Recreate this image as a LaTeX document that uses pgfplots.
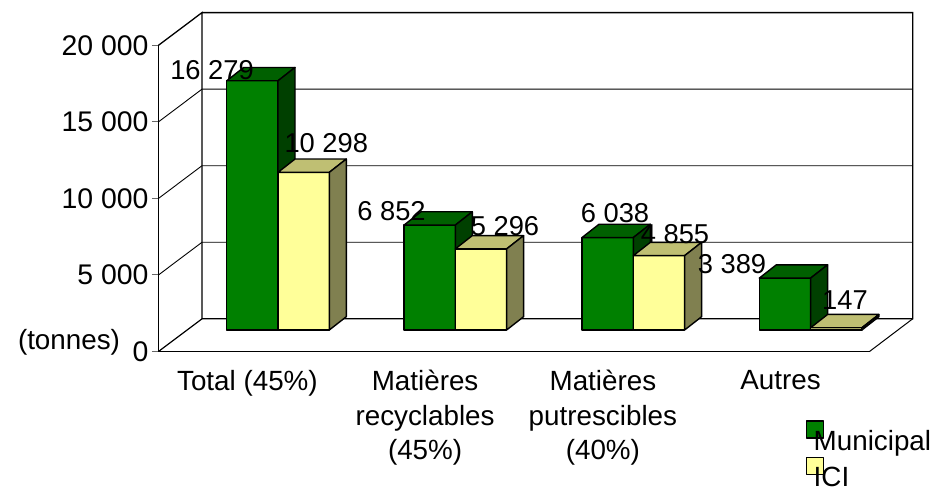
\documentclass[border=0pt]{standalone}
\usepackage{fontspec}
\setmainfont{Liberation Sans}
\usepackage{pgfplots}
\pgfplotsset{compat=1.18}
\definecolor{gf}{HTML}{008000}
\definecolor{gt}{HTML}{006000}
\definecolor{gs}{HTML}{004000}
\definecolor{yf}{HTML}{FFFF99}
\definecolor{yt}{HTML}{BFBF73}
\definecolor{ys}{HTML}{808050}
\newcommand\txt{\fontsize{27.8}{34.5}\selectfont}
\newcommand\txtd{\fontsize{27.3}{34}\selectfont}
\newcommand\txty{\fontsize{28.4}{34}\selectfont}
\newcommand\vlabel[5]{\addplot[draw=none,forget plot,point meta=explicit symbolic,nodes near coords,
  nodes near coords style={anchor=center,xshift=#3pt,yshift=#4pt,font=\txtd,text=black,inner sep=0pt}] coordinates {(#1,#2)[#5]};}
\begin{document}
\begin{tikzpicture}[x=1pt,y=1pt]
\useasboundingbox (0,0) rectangle (932,491);
\begin{axis}[
  scale only axis, width=711pt, height=306.2pt,
  at={(158.5pt,139.5pt)}, anchor=origin,
  xmin=0, xmax=711, ymin=0, ymax=20000,
  clip=false, scaled y ticks=false, scaled x ticks=false,
  axis x line*=bottom, axis y line*=left,
  axis line style={black,line width=1pt,-},
  every tick/.style={black!60,line width=1pt},
  tick align=outside, major tick length=6.5pt, minor tick length=6.5pt,
  ytick={0,5000,10000,15000,20000},
  yticklabels={0,5 000,10 000,15 000,20 000},
  xtick={88.9,266.6,444.4,622.1},
  minor xtick={0,177.75,355.5,533.25,711},
  xtick style={draw=none},
  minor x tick style={black!60,line width=1pt},
  xticklabels={Total (45\%),Matières\\recyclables\\(45\%),Matières\\putrescibles\\(40\%),Autres},
  xticklabel style={align=center,font=\txt,yshift=-8.5pt,anchor=north},
  yticklabel style={font=\txty,xshift=0pt,anchor=east},
]
\addplot[black,line width=1.3pt] coordinates {(0,20000)(43.5,22135)(43.5,2135)(754.2,2135)(754.2,22135)(43.5,22135)};
\addplot[black,line width=1.2pt] coordinates {(0,0)(43.5,2135)};
\addplot[black,line width=1.0pt] coordinates {(711,0)(754.2,2135)};
\addplot[black,line width=0.9pt] coordinates {(0,5000)(43.5,7135)(754.2,7135)};
\addplot[black,line width=0.9pt] coordinates {(0,10000)(43.5,12135)(754.2,12135)};
\addplot[black,line width=0.9pt] coordinates {(0,15000)(43.5,17135)(754.2,17135)};
\node[font=\txt,anchor=center] at (axis cs:-89.5,600) {(tonnes)};
\end{axis}
\begin{axis}[
  scale only axis, width=711pt, height=306.2pt,
  at={(158.5pt,161pt)}, anchor=origin,
  xmin=0, xmax=711, ymin=0, ymax=20000,
  clip=false, hide axis,
  legend style={draw=none,fill=none,at={(axis cs:653,-6400)},anchor=north west,font=\txt,
    row sep=11.5pt,inner sep=0pt,legend cell align=left},
]
\pgfplotsset{every axis plot/.append style={line width=1.4pt,draw=black,line join=round}}
% Total
\addplot[fill=gf,forget plot] coordinates {(68.2,0)(119.5,0)(119.5,16279)(68.2,16279)} --cycle;
\addplot[fill=gt,forget plot] coordinates {(68.2,16279)(119.5,16279)(136.5,17148)(85.2,17148)} --cycle;
\addplot[fill=gs,forget plot] coordinates {(119.5,0)(136.5,869)(136.5,17148)(119.5,16279)} --cycle;
\addplot[fill=yf,forget plot] coordinates {(119.5,0)(170.8,0)(170.8,10298)(119.5,10298)} --cycle;
\addplot[fill=yt,forget plot] coordinates {(119.5,10298)(170.8,10298)(187.8,11167)(136.5,11167)} --cycle;
\addplot[fill=ys,forget plot] coordinates {(170.8,0)(187.8,869)(187.8,11167)(170.8,10298)} --cycle;
% Recyclables
\addplot[fill=gf,forget plot] coordinates {(245.5,0)(296.8,0)(296.8,6852)(245.5,6852)} --cycle;
\addplot[fill=gt,forget plot] coordinates {(245.5,6852)(296.8,6852)(313.8,7721)(262.5,7721)} --cycle;
\addplot[fill=gs,forget plot] coordinates {(296.8,0)(313.8,869)(313.8,7721)(296.8,6852)} --cycle;
\addplot[fill=yf,forget plot] coordinates {(296.8,0)(348.1,0)(348.1,5296)(296.8,5296)} --cycle;
\addplot[fill=yt,forget plot] coordinates {(296.8,5296)(348.1,5296)(365.1,6165)(313.8,6165)} --cycle;
\addplot[fill=ys,forget plot] coordinates {(348.1,0)(365.1,869)(365.1,6165)(348.1,5296)} --cycle;
% Putrescibles
\addplot[fill=gf,forget plot] coordinates {(423.5,0)(474.8,0)(474.8,6038)(423.5,6038)} --cycle;
\addplot[fill=gt,forget plot] coordinates {(423.5,6038)(474.8,6038)(491.8,6907)(440.5,6907)} --cycle;
\addplot[fill=gs,forget plot] coordinates {(474.8,0)(491.8,869)(491.8,6907)(474.8,6038)} --cycle;
\addplot[fill=yf,forget plot] coordinates {(474.8,0)(526.1,0)(526.1,4855)(474.8,4855)} --cycle;
\addplot[fill=yt,forget plot] coordinates {(474.8,4855)(526.1,4855)(543.1,5724)(491.8,5724)} --cycle;
\addplot[fill=ys,forget plot] coordinates {(526.1,0)(543.1,869)(543.1,5724)(526.1,4855)} --cycle;
% Autres
\addplot[fill=gf,forget plot] coordinates {(600.8,0)(652.1,0)(652.1,3389)(600.8,3389)} --cycle;
\addplot[fill=gt,forget plot] coordinates {(600.8,3389)(652.1,3389)(669.1,4258)(617.8,4258)} --cycle;
\addplot[fill=gs,forget plot] coordinates {(652.1,0)(669.1,869)(669.1,4258)(652.1,3389)} --cycle;
\addplot[fill=yf,forget plot] coordinates {(652.1,0)(703.4,0)(703.4,147)(652.1,147)} --cycle;
\addplot[fill=yt,forget plot] coordinates {(652.1,147)(703.4,147)(720.4,1016)(669.1,1016)} --cycle;
\addplot[fill=ys,forget plot] coordinates {(703.4,0)(720.4,869)(720.4,1016)(703.4,147)} --cycle;
% labels
\vlabel{68.2}{16279}{-14.7}{11}{16 279}
\vlabel{119.5}{10298}{48.3}{29}{10 298}
\vlabel{245.5}{6852}{-12.5}{14}{6 852}
\vlabel{296.8}{5296}{49.7}{23}{5 296}
\vlabel{423.5}{6038}{33}{24}{6 038}
\vlabel{474.8}{4855}{41.7}{22}{4 855}
\vlabel{600.8}{3389}{-27.3}{14}{3 389}
\vlabel{652.1}{147}{34.4}{28}{147}
% legend
\addlegendimage{legend image code/.code={\draw[overlay,fill=gf,draw=black,line width=1.4pt] (-5pt,3pt) rectangle (12pt,20pt);}}
\addlegendentry{Municipal}
\addlegendimage{legend image code/.code={\draw[overlay,fill=yf,draw=black,line width=1.4pt] (-5pt,3pt) rectangle (12pt,20pt);}}
\addlegendentry{ICI}
\end{axis}
\end{tikzpicture}
\end{document}
